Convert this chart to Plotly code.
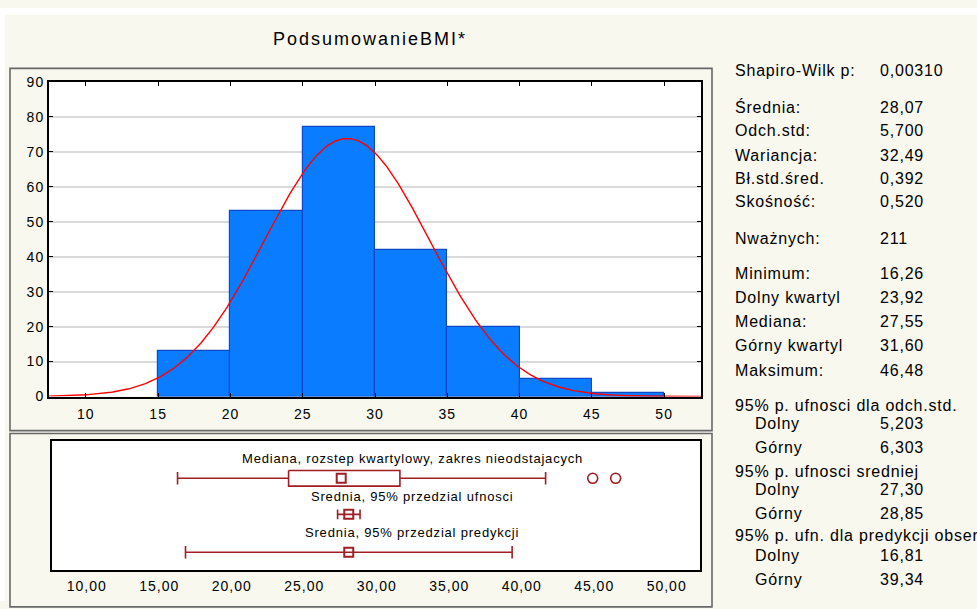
import numpy as np
import plotly.graph_objects as go

# ---------------- data ----------------
bin_edges = [15, 20, 25, 30, 35, 40, 45, 50]
bin_counts = [13, 53, 77, 42, 20, 5, 1]
hist_x_ticks = [10, 15, 20, 25, 30, 35, 40, 45, 50]
hist_y_ticks = [0, 10, 20, 30, 40, 50, 60, 70, 80, 90]
box_x_ticks = [10, 15, 20, 25, 30, 35, 40, 45, 50]

n_valid = 211
mean_bmi = 28.07
sd_bmi = 5.700
minimum = 16.26
q1 = 23.92
median = 27.55
q3 = 31.60
maximum = 46.48
upper_whisker = 41.65
outliers = [44.90, 46.48]
mean_ci = [27.30, 28.85]
pred_interval = [16.81, 39.34]

stat_labels = [
    "Shapiro-Wilk p:", "Średnia:", "Odch.std:", "Wariancja:", "Bł.std.śred.",
    "Skośność:", "Nważnych:", "Minimum:", "Dolny kwartyl", "Mediana:",
    "Górny kwartyl", "Maksimum:", "95% p. ufnosci dla odch.std.", "Dolny", "Górny",
    "95% p. ufnosci sredniej", "Dolny", "Górny",
    "95% p. ufn. dla predykcji obserwacji", "Dolny", "Górny",
]
stat_values = [
    "0,00310", "28,07", "5,700", "32,49", "0,392",
    "0,520", "211", "16,26", "23,92", "27,55",
    "31,60", "46,48", "", "5,203", "6,303",
    "", "27,30", "28,85",
    "", "16,81", "39,34",
]

# ---------------- layout helpers ----------------
W, H = 977, 609


def px(x):
    return x / W


def py(y):
    return 1 - y / H


def spaced(text, ls):
    """Wrap text in a span with extra letter spacing."""
    return f'<span style="letter-spacing:{ls}px">{text}</span>'


BG = "#F8F8EE"
RED = "#A01E24"
BAR = "#0A7CFF"
BAR_EDGE = "#1048C8"
FRAME = "#686868"
FONT = "Liberation Sans, Arial, sans-serif"

fig = go.Figure()

# ---------------- histogram ----------------
bin_centers = [(a + b) / 2 for a, b in zip(bin_edges[:-1], bin_edges[1:])]
bin_widths = [b - a for a, b in zip(bin_edges[:-1], bin_edges[1:])]
fig.add_trace(go.Bar(
    x=bin_centers, y=bin_counts, width=bin_widths,
    marker=dict(color=BAR, line=dict(color=BAR_EDGE, width=1.2)),
    xaxis="x", yaxis="y", showlegend=False,
))

# fitted normal curve scaled to counts per bin
xr = (7.45, 52.55)
xs = np.linspace(xr[0], xr[1], 400)
bw = bin_edges[1] - bin_edges[0]
ys = n_valid * bw / (sd_bmi * np.sqrt(2 * np.pi)) * np.exp(-0.5 * ((xs - mean_bmi) / sd_bmi) ** 2)
fig.add_trace(go.Scatter(
    x=xs, y=ys, mode="lines", line=dict(color="#FF0000", width=1.4),
    xaxis="x", yaxis="y", showlegend=False,
))

# ---------------- box / interval panel ----------------
row_box, row_ci, row_pred = 38, 75, 114
box_half = 8

fig.add_trace(go.Scatter(
    x=[q1, q3, q3, q1, q1],
    y=[row_box - box_half, row_box - box_half, row_box + box_half, row_box + box_half, row_box - box_half],
    mode="lines", line=dict(color=RED, width=1.6),
    xaxis="x2", yaxis="y2", showlegend=False,
))
fig.add_trace(go.Scatter(
    x=[minimum, q1, None, q3, upper_whisker],
    y=[row_box, row_box, None, row_box, row_box],
    mode="lines", line=dict(color=RED, width=1.6),
    xaxis="x2", yaxis="y2", showlegend=False,
))
fig.add_trace(go.Scatter(
    x=[minimum, upper_whisker], y=[row_box, row_box], mode="markers",
    marker=dict(symbol="line-ns", size=9, line=dict(color=RED, width=1.6)),
    xaxis="x2", yaxis="y2", showlegend=False,
))
fig.add_trace(go.Scatter(
    x=[median], y=[row_box], mode="markers",
    marker=dict(symbol="square-open", size=9, color=RED, line=dict(width=2)),
    xaxis="x2", yaxis="y2", showlegend=False,
))
fig.add_trace(go.Scatter(
    x=outliers, y=[row_box] * len(outliers), mode="markers",
    marker=dict(symbol="circle-open", size=10, color=RED, line=dict(width=1.6)),
    xaxis="x2", yaxis="y2", showlegend=False,
))

# mean with 95% confidence interval
fig.add_trace(go.Scatter(
    x=mean_ci, y=[row_ci, row_ci], mode="lines", line=dict(color=RED, width=1.6),
    xaxis="x2", yaxis="y2", showlegend=False,
))
fig.add_trace(go.Scatter(
    x=mean_ci, y=[row_ci, row_ci], mode="markers",
    marker=dict(symbol="line-ns", size=7, line=dict(color=RED, width=1.6)),
    xaxis="x2", yaxis="y2", showlegend=False,
))
fig.add_trace(go.Scatter(
    x=[mean_bmi], y=[row_ci], mode="markers",
    marker=dict(symbol="square-open", size=9, color=RED, line=dict(width=2)),
    xaxis="x2", yaxis="y2", showlegend=False,
))

# mean with 95% prediction interval
fig.add_trace(go.Scatter(
    x=pred_interval, y=[row_pred, row_pred], mode="lines", line=dict(color=RED, width=1.6),
    xaxis="x2", yaxis="y2", showlegend=False,
))
fig.add_trace(go.Scatter(
    x=pred_interval, y=[row_pred, row_pred], mode="markers",
    marker=dict(symbol="line-ns", size=9, line=dict(color=RED, width=1.6)),
    xaxis="x2", yaxis="y2", showlegend=False,
))
fig.add_trace(go.Scatter(
    x=[mean_bmi], y=[row_pred], mode="markers",
    marker=dict(symbol="square-open", size=9, color=RED, line=dict(width=2)),
    xaxis="x2", yaxis="y2", showlegend=False,
))

annotations = []
for txt, yv in [("Mediana, rozstep kwartylowy, zakres nieodstajacych", 18),
                ("Srednia, 95% przedzial ufnosci", 57),
                ("Srednia, 95% przedzial predykcji", 94)]:
    annotations.append(dict(
        x=px(412), xref="paper", y=yv, yref="y2", text=spaced(txt, 0.8), showarrow=False,
        xanchor="center", yanchor="middle", font=dict(size=13, color="#000", family=FONT),
    ))

# title
annotations.append(dict(
    x=px(370), y=py(32), xref="paper", yref="paper", text=spaced("PodsumowanieBMI*", 2),
    showarrow=False, xanchor="center", yanchor="middle",
    font=dict(size=18, color="#000", family=FONT),
))

# statistics listing
row_y = [64, 102, 126, 151, 175, 199, 237, 273, 297, 322, 347, 372,
         408, 427, 451, 476, 494, 519, 542, 562, 587]
for lab, val, yy in zip(stat_labels, stat_values, row_y):
    indent = lab in ("Dolny", "Górny")
    annotations.append(dict(
        x=px(753 if indent else 733), y=py(yy), xref="paper", yref="paper",
        text=spaced(lab, 0.8),
        showarrow=False, xanchor="left", yanchor="middle",
        font=dict(size=16, color="#000", family=FONT),
    ))
    if val:
        annotations.append(dict(
            x=px(878), y=py(yy), xref="paper", yref="paper", text=spaced(val, 0.8),
            showarrow=False, xanchor="left", yanchor="middle",
            font=dict(size=16, color="#000", family=FONT),
        ))

shapes = [
    # top panel frame
    dict(type="rect", xref="paper", yref="paper", x0=px(10), x1=px(712), y0=py(434), y1=py(62),
         line=dict(color=FRAME, width=1.6), layer="above"),
    # bottom panel frame
    dict(type="rect", xref="paper", yref="paper", x0=px(10), x1=px(712), y0=py(615), y1=py(437),
         line=dict(color=FRAME, width=1.6), layer="above"),
    # white border strips
    dict(type="rect", xref="paper", yref="paper", x0=0, x1=1, y0=py(7), y1=1,
         fillcolor="white", line=dict(width=0), layer="above"),
    dict(type="rect", xref="paper", yref="paper", x0=0, x1=px(5), y0=0, y1=1,
         fillcolor="white", line=dict(width=0), layer="above"),
]

axis_font = dict(size=14, color="#000", family=FONT)

fig.update_layout(
    width=W, height=H, autosize=False,
    margin=dict(l=0, r=0, t=0, b=0),
    paper_bgcolor=BG, plot_bgcolor="white",
    separators=",.",
    showlegend=False,
    bargap=0,
    annotations=annotations,
    shapes=shapes,
    xaxis=dict(
        domain=[px(49), px(701)], range=list(xr), anchor="y",
        tickvals=hist_x_ticks, ticktext=[spaced(f"{v}", 1) for v in hist_x_ticks],
        ticks="inside", ticklen=4, tickcolor="#000",
        mirror="allticks", showline=True, linecolor="#000", linewidth=2,
        showgrid=False, zeroline=False, tickfont=axis_font, ticklabelstandoff=4,
    ),
    yaxis=dict(
        domain=[py(399), py(76)], range=[0, 90], anchor="x",
        tickvals=hist_y_ticks, ticktext=[spaced(f"{v}", 1) for v in hist_y_ticks],
        ticks="inside", ticklen=4, tickcolor="#000",
        mirror="allticks", showline=True, linecolor="#000", linewidth=2,
        showgrid=True, gridcolor="#DADADA", gridwidth=1.5, zeroline=False,
        tickfont=axis_font,
    ),
    xaxis2=dict(
        domain=[px(52), px(700)], range=[7.6, 52.3], anchor="y2",
        tickvals=box_x_ticks, ticktext=[spaced(f"{v:.2f}".replace(".", ","), 1) for v in box_x_ticks],
        ticks="",
        mirror=True, showline=True, linecolor="#000", linewidth=2,
        showgrid=False, zeroline=False, tickfont=axis_font, ticklabelstandoff=2,
    ),
    yaxis2=dict(
        domain=[py(577), py(445)], range=[132, 0], anchor="x2",
        showticklabels=False, ticks="", mirror=True, showline=True,
        linecolor="#000", linewidth=2, showgrid=False, zeroline=False,
    ),
)

fig.write_html("out.html")
